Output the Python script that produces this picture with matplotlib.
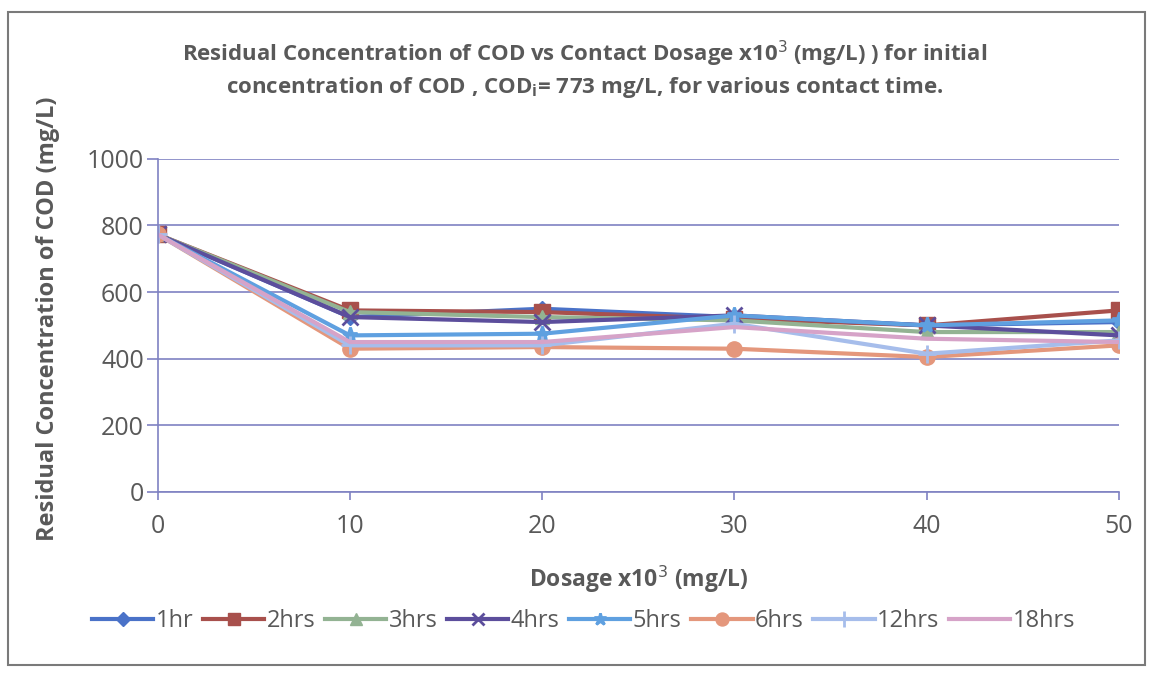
import matplotlib
matplotlib.use("Agg")
import matplotlib.pyplot as plt
from matplotlib.patches import Rectangle

plt.rcParams['font.family'] = ['Open Sans', 'DejaVu Sans']

dosage = [0, 10, 20, 30, 40, 50]
series_names = ["1hr", "2hrs", "3hrs", "4hrs", "5hrs", "6hrs", "12hrs", "18hrs"]
cod_1hr = [773, 525, 550, 525, 500, 510]
cod_2hrs = [773, 545, 540, 520, 500, 545]
cod_3hrs = [773, 540, 525, 515, 480, 480]
cod_4hrs = [773, 525, 510, 530, 500, 470]
cod_5hrs = [773, 470, 475, 530, 500, 515]
cod_6hrs = [773, 430, 435, 430, 405, 440]
cod_12hrs = [773, 440, 440, 505, 415, 455]
cod_18hrs = [773, 450, 450, 495, 460, 450]
y_ticks = [0, 200, 400, 600, 800, 1000]
x_ticks = [0, 10, 20, 30, 40, 50]

all_series = [cod_1hr, cod_2hrs, cod_3hrs, cod_4hrs, cod_5hrs, cod_6hrs, cod_12hrs, cod_18hrs]
colors = ["#4A72C8", "#A8504C", "#93B393", "#5C4E9C", "#5FA0E0", "#E4977C", "#A6BDEB", "#D6A3C8"]
markers = ["D", "s", "^", "x", "*", "o", "+", None]
msizes = [8, 11, 10, 11, 11, 11, 13, 0]

fig = plt.figure(figsize=(11.51, 6.73), dpi=100)
fig.patch.set_facecolor("white")
fig.add_artist(Rectangle((0.007, 0.012), 0.988, 0.97, transform=fig.transFigure,
                         fill=False, edgecolor="#7A7A7A", linewidth=1.5))

ax = fig.add_axes([0.137, 0.269, 0.835, 0.495])
for name, vals, c, m, ms in zip(series_names, all_series, colors, markers, msizes):
    ax.plot(dosage, vals, color=c, linewidth=3, marker=m, markersize=ms,
            markeredgewidth=2 if m in ("x", "+", "*") else 1, markeredgecolor=c,
            label=name)

ax.set_xlim(0, 50)
ax.set_ylim(0, 1000)
ax.set_xticks(x_ticks)
ax.set_yticks(y_ticks)
ax.grid(axis="y", color="#7F82C2", linewidth=1.2)
ax.set_axisbelow(True)
for s in ["top", "right", "bottom"]:
    ax.spines[s].set_visible(False)
ax.spines["left"].set_color("#7F82C2")
ax.spines["left"].set_linewidth(1.2)
ax.tick_params(axis="y", length=8, color="#7F82C2", width=1.2, labelsize=18, labelcolor="#595959", pad=2)
ax.tick_params(axis="x", length=6, color="#7F82C2", width=1.2, labelsize=18, labelcolor="#595959", pad=10)
ax.plot([0, 50], [0, 0], color="#7F82C2", linewidth=1.2, clip_on=False, zorder=0.5)

fig.text(0.508, 0.897, "Residual Concentration of COD vs Contact Dosage x10$^3$ (mg/L) ) for initial\n"
         "concentration of COD , COD$_{\\mathregular{i}}$= 773 mg/L, for various contact time.",
         ha="center", va="center", fontsize=16, fontweight="bold", color="#595959",
         linespacing=1.35)
ax.set_xlabel("Dosage x10$^3$ (mg/L)", fontsize=16.5, fontweight="bold", color="#595959", labelpad=18)
ax.set_ylabel("Residual Concentration of COD (mg/L)", fontsize=17, fontweight="bold",
              color="#595959")
ax.yaxis.set_label_coords(-0.102, 0.52)

leg = fig.legend(loc="center", bbox_to_anchor=(0.507, 0.077), ncol=8, frameon=False,
                 fontsize=17, handlelength=2.6, columnspacing=0.4, handletextpad=0.1,
                 labelcolor="#595959", markerscale=0.85)

fig.savefig("out.png", dpi=100, facecolor="white")
